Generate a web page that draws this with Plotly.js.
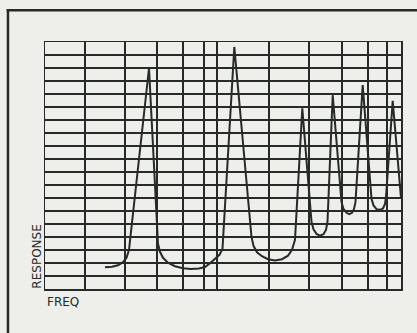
<!DOCTYPE html>
<html>
<head>
<meta charset="utf-8">
<script src="https://cdn.plot.ly/plotly-3.0.1.min.js"></script>
<style>html,body{margin:0;padding:0;background:#eeeeea;}#chart{width:417px;height:333px;}</style>
</head>
<body>
<div id="chart"></div>
<script>
// Frequency (arbitrary units) and response (grid units)
var freq = [60, 67, 73, 78, 81.5, 84, 104, 113, 115, 118, 123, 130, 138, 146, 154, 160, 165, 170, 174.5, 177.5,
  189.3, 206.5, 208.5, 212, 217, 223, 230, 237, 243, 247, 250, 257.3, 266.5, 268.5, 271.5, 275, 278.5, 281, 282.5,
  287.7, 296.5, 298.5, 301.5, 304.3, 307, 309, 310.5, 317.7, 326.5, 328.5, 331.5, 335, 338, 340, 341, 347.7, 356];
var response = [1.67, 1.71, 1.83, 2.06, 2.40, 3.02, 16.98, 3.48, 2.86, 2.40, 2.02, 1.75, 1.60, 1.53, 1.57, 1.69, 1.98, 2.33, 2.63, 3.09,
  18.62, 4.01, 3.32, 2.82, 2.52, 2.29, 2.19, 2.29, 2.56, 3.02, 3.78, 13.89, 5.17, 4.59, 4.24, 4.11, 4.22, 4.55, 5.17,
  14.91, 6.70, 6.16, 5.86, 5.76, 5.86, 6.16, 6.70, 15.68, 6.93, 6.43, 6.14, 6.09, 6.20, 6.55, 7.08, 14.47, 7.01];
// Grid line positions
var freqGrid = [0, 40, 80, 112, 138, 159, 172, 224, 264, 297, 323, 342, 356];
var respGrid = [0,1,2,3,4,5,6,7,8,9,10,11,12,13,14,15,16,17,18,19];
var xLabel = 'FREQ';
var yLabel = 'RESPONSE';

var ink = '#262b27';
var paper = '#eeeeea';

var trace = {
  x: freq, y: response, type: 'scatter', mode: 'lines',
  line: {color: ink, width: 2}, hoverinfo: 'skip'
};

var layout = {
  width: 417, height: 333,
  margin: {l: 45, r: 16, t: 42, b: 44},
  paper_bgcolor: paper, plot_bgcolor: paper,
  showlegend: false,
  xaxis: {range: [0, 356], tickmode: 'array', tickvals: freqGrid, showticklabels: false, ticks: '',
    showgrid: true, gridcolor: ink, gridwidth: 1.5, zeroline: false,
    showline: true, mirror: true, linecolor: ink, linewidth: 1.5, fixedrange: true},
  yaxis: {range: [0, 19], tickmode: 'array', tickvals: respGrid, showticklabels: false, ticks: '',
    showgrid: true, gridcolor: ink, gridwidth: 1.5, zeroline: false,
    showline: true, mirror: true, linecolor: ink, linewidth: 1.5, fixedrange: true},
  annotations: [
    {text: xLabel, xref: 'paper', yref: 'paper', x: 0, y: -0.051, xanchor: 'left', yanchor: 'middle',
      showarrow: false, font: {family: 'DejaVu Sans', size: 12, color: ink}},
    {text: yLabel, xref: 'paper', yref: 'paper', x: -0.0225, y: 0.131, xanchor: 'center', yanchor: 'middle',
      textangle: -90, showarrow: false, font: {family: 'DejaVu Sans', size: 12, color: ink}}
  ],
  shapes: [
    {type: 'line', xref: 'paper', yref: 'paper', x0: -0.104, x1: -0.104, y0: 1.129, y1: -0.25,
      line: {color: ink, width: 2.5}},
    {type: 'line', xref: 'paper', yref: 'paper', x0: -0.108, x1: 1.1, y0: 1.129, y1: 1.129,
      line: {color: ink, width: 2.5}}
  ]
};

Plotly.newPlot('chart', [trace], layout, {displayModeBar: false, staticPlot: true});
</script>
</body>
</html>
